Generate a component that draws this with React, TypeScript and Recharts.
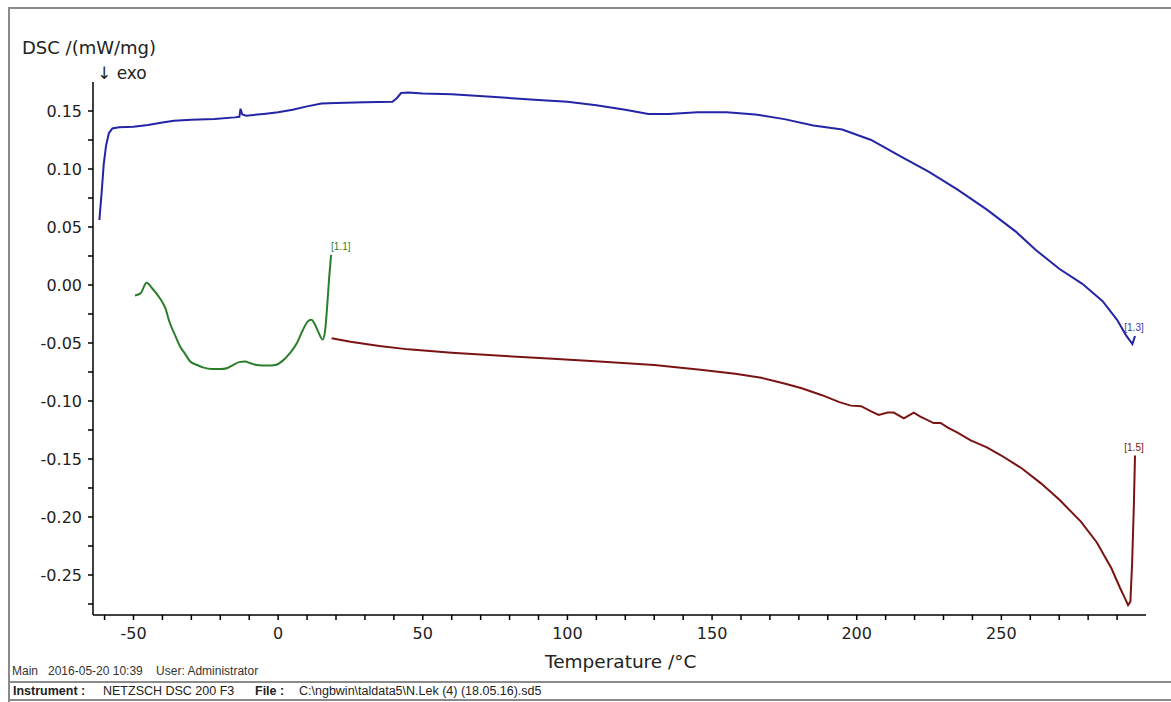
import React from "react";
import { LineChart, Line, XAxis, YAxis } from "recharts";

// DSC scan, segments [1.1] (green), [1.3] (blue), [1.5] (red)
const seg13 = [
  [-61.8, 0.056], [-61.0, 0.08], [-60.3, 0.104], [-59.5, 0.12], [-58.5, 0.131],
  [-57.3, 0.135], [-55, 0.136], [-50, 0.1365], [-45, 0.138], [-40, 0.14],
  [-36, 0.1415], [-30, 0.1425], [-22, 0.143], [-15, 0.1445], [-13.4, 0.145],
  [-13, 0.152], [-12.4, 0.147], [-11, 0.146], [-5, 0.1475], [0, 0.149],
  [5, 0.151], [10, 0.154], [15, 0.1565], [20, 0.157], [30, 0.1575],
  [39.5, 0.158], [41, 0.161], [42.5, 0.1655], [45, 0.166], [50, 0.165],
  [60, 0.1645], [75, 0.162], [90, 0.1595], [100, 0.158], [110, 0.155],
  [120, 0.151], [128, 0.1475], [135, 0.1475], [145, 0.149], [155, 0.149],
  [165, 0.147], [175, 0.143], [185, 0.1375], [195, 0.134], [205, 0.125],
  [215, 0.111], [225, 0.0975], [235, 0.082], [245, 0.065], [255, 0.046],
  [262, 0.03], [270, 0.014], [278, 0.001], [285, -0.014], [290, -0.03],
  [293, -0.043], [295.3, -0.051], [296.2, -0.044],
];

const seg11 = [
  [-49.5, -0.009], [-47.5, -0.007], [-45.5, 0.002], [-43.5, -0.003], [-41, -0.011],
  [-39, -0.02], [-37.4, -0.033], [-35.5, -0.044], [-33.9, -0.053], [-32, -0.06],
  [-30.4, -0.066], [-28, -0.069], [-26, -0.071], [-23, -0.0725], [-20, -0.0725],
  [-17.5, -0.0715], [-15.6, -0.069], [-13.5, -0.0665], [-11.4, -0.066], [-9.5, -0.0675],
  [-7.3, -0.069], [-4, -0.0695], [-1, -0.069], [1.7, -0.065], [4, -0.059],
  [6.5, -0.05], [8.5, -0.039], [10.4, -0.031], [11.5, -0.03], [12.5, -0.033],
  [13.8, -0.04], [15.4, -0.047], [16.2, -0.04], [16.9, -0.02], [17.6, 0.005],
  [18.3, 0.026],
];

const seg15 = [
  [18.5, -0.046], [25, -0.049], [35, -0.0525], [45, -0.0555], [60, -0.0585],
  [77, -0.061], [95, -0.0635], [111, -0.066], [130, -0.069], [146, -0.073],
  [158, -0.0765], [167, -0.08], [175, -0.085], [181, -0.089], [188, -0.095],
  [194, -0.101], [198, -0.104], [201.5, -0.1045], [205, -0.109], [207.6, -0.112],
  [210.7, -0.11], [212.8, -0.11], [216.3, -0.115], [219.7, -0.11], [222, -0.1135],
  [226.6, -0.119], [229, -0.119], [231.5, -0.123], [235, -0.1275], [239.4, -0.134],
  [245, -0.14], [250, -0.147], [257, -0.158], [263.7, -0.171], [270, -0.185],
  [277.5, -0.204], [283, -0.222], [288, -0.244], [291, -0.261], [292.7, -0.27],
  [293.8, -0.276], [294.6, -0.273], [295.2, -0.24], [295.8, -0.19], [296.2, -0.147],
];

const xTicks = [
  -60, -50, -40, -30, -20, -10, 0, 10, 20, 30, 40, 50, 60, 70, 80, 90, 100, 110,
  120, 130, 140, 150, 160, 170, 180, 190, 200, 210, 220, 230, 240, 250, 260, 270, 280, 290,
];
const yTicks = [
  -0.275, -0.25, -0.225, -0.2, -0.175, -0.15, -0.125, -0.1, -0.075, -0.05, -0.025,
  0, 0.025, 0.05, 0.075, 0.1, 0.125, 0.15,
];

const toPts = (arr: number[][]) => arr.map(([t, v]) => ({ t, v }));

const tickFont = { fontFamily: "DejaVu Sans", fontSize: 16, fill: "#222" };

const endLabel =
  (text: string, color: string, count: number, anchor: "start" | "middle") =>
  (p: any) => {
    if (p.index !== count - 1) return null;
    return (
      <text
        x={anchor === "start" ? p.x : p.x - 1}
        y={p.y - 5}
        textAnchor={anchor}
        fontFamily="Liberation Sans"
        fontSize={10}
        fill={color}
      >
        {text}
      </text>
    );
  };

const frame = "#8a8a8a";
const foot = { position: "absolute" as const, top: 684, fontSize: 12.5, color: "#222", whiteSpace: "nowrap" as const };

export default function App() {
  return (
    <div
      style={{
        position: "absolute",
        left: 0,
        top: 0,
        width: 1171,
        height: 702,
        background: "#fff",
        overflow: "hidden",
        fontFamily: "Liberation Sans",
      }}
    >
      {/* page frame */}
      <div style={{ position: "absolute", left: 8, top: 7, width: 1163, borderTop: `2px solid ${frame}` }} />
      <div style={{ position: "absolute", left: 8, top: 7, height: 695, borderLeft: `2px solid ${frame}` }} />
      <div style={{ position: "absolute", left: 8, top: 681, width: 1163, borderTop: `2px solid ${frame}` }} />
      <div style={{ position: "absolute", left: 8, top: 699, width: 1163, borderTop: `2px solid ${frame}` }} />

      <LineChart width={1171} height={702} margin={{ top: 82, right: 25, bottom: 0, left: 0 }}>
        <XAxis
          type="number"
          dataKey="t"
          domain={[-64, 300]}
          ticks={xTicks}
          allowDataOverflow
          interval={0}
          height={87}
          stroke="#000"
          strokeWidth={1.5}
          tickSize={5}
          tickMargin={8}
          tick={tickFont}
          tickFormatter={(t: number) => (t % 50 === 0 ? String(t) : "")}
        />
        <YAxis
          type="number"
          dataKey="v"
          domain={[-0.2845, 0.175]}
          ticks={yTicks}
          allowDataOverflow
          interval={0}
          width={93}
          stroke="#000"
          strokeWidth={1.5}
          tickSize={5}
          tickMargin={6}
          tick={tickFont}
          tickFormatter={(v: number) =>
            Math.round(v * 1000) % 50 === 0 ? (Math.abs(v) < 1e-9 ? "0.00" : v.toFixed(2)) : ""
          }
        />
        <Line
          data={toPts(seg13)}
          dataKey="v"
          type="linear"
          stroke="#2424a6"
          strokeWidth={2}
          dot={false}
          isAnimationActive={false}
          label={endLabel("[1.3]", "#3a3ab0", seg13.length, "middle")}
        />
        <Line
          data={toPts(seg11)}
          dataKey="v"
          type="monotone"
          stroke="#2b7f2b"
          strokeWidth={2}
          dot={false}
          isAnimationActive={false}
          label={endLabel("[1.1]", "#2b7f2b", seg11.length, "start")}
        />
        <Line
          data={toPts(seg15)}
          dataKey="v"
          type="linear"
          stroke="#7a1414"
          strokeWidth={2}
          dot={false}
          isAnimationActive={false}
          label={endLabel("[1.5]", "#7a1414", seg15.length, "middle")}
        />
      </LineChart>

      {/* axis titles */}
      <div style={{ position: "absolute", left: 22, top: 37, fontFamily: "DejaVu Sans", fontSize: 18, color: "#222", whiteSpace: "nowrap" }}>
        DSC /(mW/mg)
      </div>
      <div style={{ position: "absolute", left: 97, top: 63, fontFamily: "DejaVu Sans", fontSize: 17, color: "#222", whiteSpace: "nowrap" }}>
        ↓ exo
      </div>
      <div style={{ position: "absolute", left: 545, top: 651, fontFamily: "DejaVu Sans", fontSize: 18.5, color: "#222", whiteSpace: "nowrap" }}>
        Temperature /°C
      </div>

      {/* footer */}
      <div style={{ ...foot, left: 12, top: 664, fontSize: 12, color: "#333" }}>
        Main&nbsp;&nbsp;&nbsp;2016-05-20 10:39&nbsp;&nbsp;&nbsp;&nbsp;User: Administrator
      </div>
      <div style={{ ...foot, left: 13, fontWeight: "bold" }}>Instrument :</div>
      <div style={{ ...foot, left: 103 }}>NETZSCH DSC 200 F3</div>
      <div style={{ ...foot, left: 255, fontWeight: "bold" }}>File :</div>
      <div style={{ ...foot, left: 299 }}>C:\ngbwin\taldata5\N.Lek (4) (18.05.16).sd5</div>
    </div>
  );
}
